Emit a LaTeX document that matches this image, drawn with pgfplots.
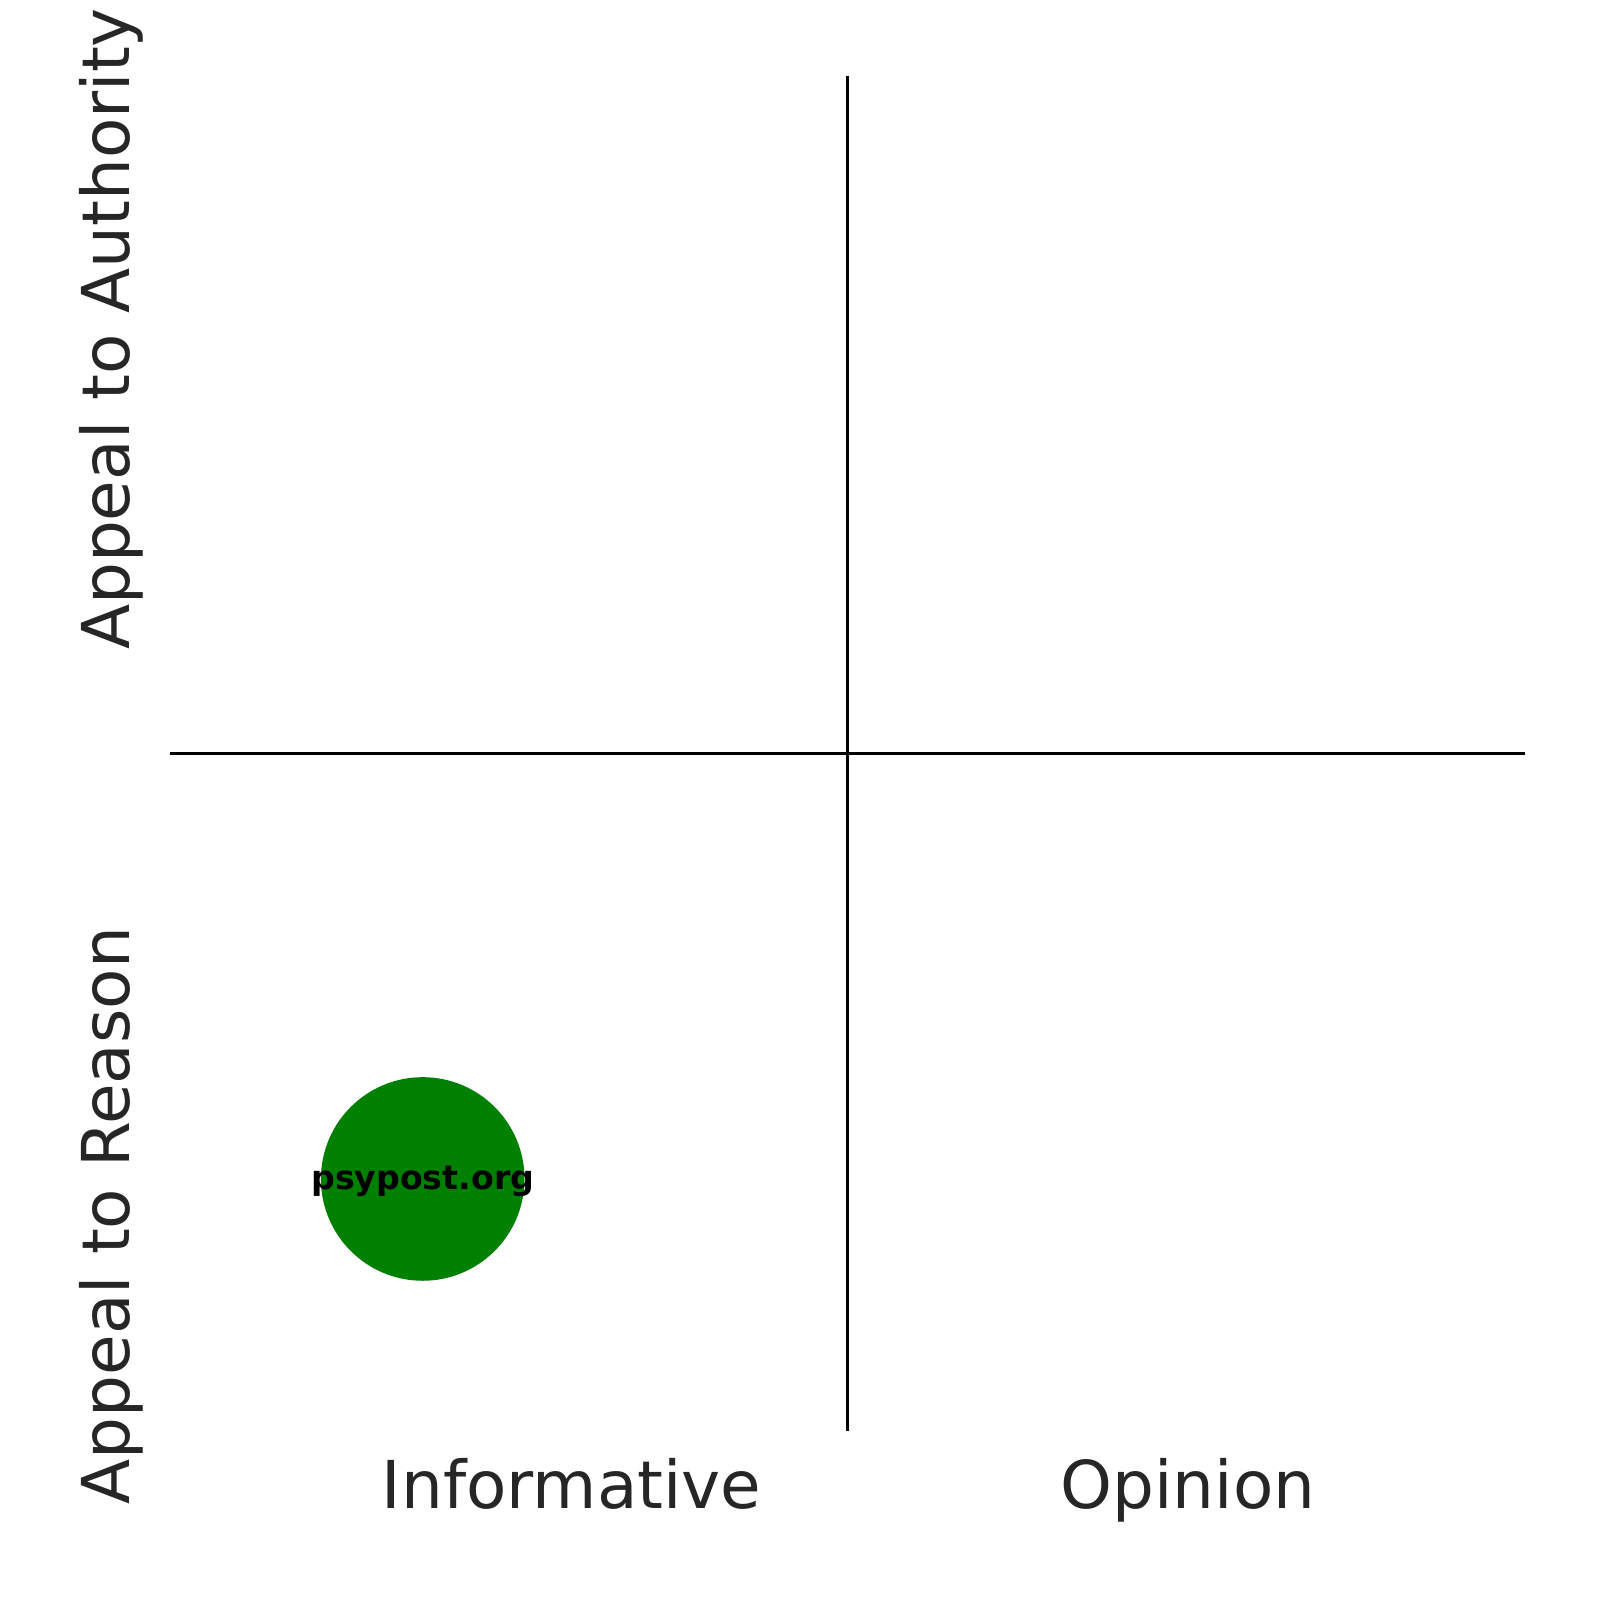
\documentclass[border=0pt]{standalone}
\usepackage{pgfplots}
\pgfplotsset{compat=1.18}
\usepackage{fontspec}
\setmainfont{DejaVu Sans}
\definecolor{txt}{HTML}{262626}
\definecolor{mplgreen}{HTML}{008000}
\begin{document}
\begin{tikzpicture}
\useasboundingbox (0,0) rectangle (400pt,400pt);
\clip (0,0) rectangle (400pt,400pt);
\begin{axis}[
  at={(42.5pt,42.25pt)}, anchor=south west,
  scale only axis, width=338.75pt, height=338.75pt,
  xmin=-1, xmax=1, ymin=-1, ymax=1,
  hide axis, clip=false,
]
\addplot[black, line width=0.55pt] coordinates {(0,-1) (0,1)};
\addplot[black, line width=0.55pt] coordinates {(-1,0) (1,0)};
\addplot[only marks, mark=*, mark size=25.25pt, color=mplgreen,
  nodes near coords={psypost.org},
  every node near coord/.style={anchor=center, yshift=-0.5pt, text=black, font=\fontsize{8.3pt}{10pt}\selectfont\bfseries}]
  coordinates {(-0.627,-0.628)};
\end{axis}
\node[anchor=base, text=txt, inner sep=0, font=\fontsize{16.5pt}{20pt}\selectfont] at (142.9pt,23pt) {Informative};
\node[anchor=base, text=txt, inner sep=0, font=\fontsize{16.5pt}{20pt}\selectfont] at (297pt,23pt) {Opinion};
\node[anchor=base west, rotate=90, text=txt, inner sep=0, font=\fontsize{16.5pt}{20pt}\selectfont] at (32.25pt,237.3pt) {Appeal to Authority};
\node[anchor=base west, rotate=90, text=txt, inner sep=0, font=\fontsize{16.5pt}{20pt}\selectfont] at (32.25pt,23.75pt) {Appeal to Reason};
\end{tikzpicture}
\end{document}
